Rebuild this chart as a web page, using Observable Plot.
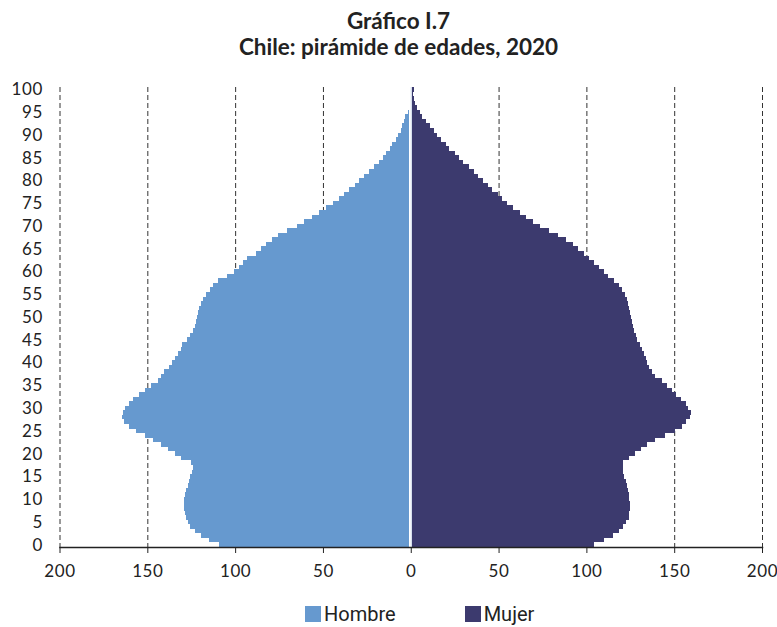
<!DOCTYPE html>
<html>
<head>
<meta charset="utf-8">
<script src="https://cdn.jsdelivr.net/npm/d3@7"></script>
<script src="https://cdn.jsdelivr.net/npm/@observablehq/plot@0.6"></script>
<style>
  body { margin: 0; background: #fff; width: 777px; }
  #title { margin-top: 8px; text-align: center; font-family: Lato, "Open Sans", sans-serif; font-weight: 700; font-size: 22.5px; line-height: 26px; color: #222; height: 54px; padding-left: 20px; }
  #chart svg { display: block; }
  #chart svg rect { shape-rendering: crispEdges; }
  #legend { margin-top: 16px; padding-left: 305px; display: flex; font-family: "Liberation Sans Narrow", Roboto, sans-serif; font-size: 20px; line-height: 22px; height: 22px; color: #222; }
  .item { display: flex; align-items: center; }
  .sw { width: 16px; height: 16px; margin-right: 3px; }
</style>
</head>
<body>
<div id="title">Gráfico I.7<br>Chile: pirámide de edades, 2020</div>
<div id="chart"></div>
<div id="legend"></div>
<script>
const ages = d3.range(0, 101);
const seriesNames = ["Hombre", "Mujer"];
const hombre = [
  109, 115, 119.5, 123, 125.5, 127, 128, 128.5, 129, 129,
  129, 128.5, 128, 127, 126.5, 125.5, 124.5, 124, 125, 131,
  134.5, 138, 142, 147, 151.5, 156.5, 160.5, 163, 164.5, 164,
  162.5, 160.5, 158, 155, 151.5, 148, 144, 142, 140.5, 137.5,
  136, 134.5, 132.5, 131, 130, 127.5, 125.5, 124, 123, 122.5,
  121.5, 121, 120.5, 119.5, 118.5, 116.5, 114.5, 112.8, 110, 104.5,
  100.5, 98, 95.5, 93, 88, 85, 82.5, 79, 75.5, 70.5,
  65, 60.5, 56, 52, 48, 44.5, 41, 38, 35, 32,
  29.5, 26.5, 24, 21, 18, 16, 14, 12, 10.5, 8.5,
  7, 5.8, 4.8, 3.8, 3, 1.3, 0.9, 0.6, 0.4, 0.2,
  0.2
];
const mujer = [
  104.5, 110, 115, 118.5, 121, 122.5, 124, 124.5, 125, 125,
  124.5, 124, 123.5, 123, 122.5, 121.5, 121, 120.8, 121, 124,
  127.5, 131, 134.5, 139, 144.5, 150.5, 154.5, 157, 159, 159.5,
  158, 156.5, 154, 151, 148.5, 146, 143, 139, 137.5, 135.5,
  134.8, 134, 133, 131.5, 130.5, 129, 128, 127, 126.3, 125.8,
  125.3, 125, 124.5, 123.5, 123, 121.8, 120.5, 118.5, 116, 112.5,
  110, 107, 104.5, 101.5, 98.5, 95.5, 92.5, 88.5, 84, 79,
  73.5, 69.5, 65.5, 62, 58, 55, 52, 49.5, 46.5, 44,
  41, 38.5, 36, 33, 30, 27.5, 25, 22, 19.8, 17.5,
  15, 13, 11, 8.5, 6.5, 5, 3.5, 2.5, 1.6, 1.2,
  2
];
const xTicks = [-200, -150, -100, -50, 0, 50, 100, 150, 200];
const gridTicks = [-200, -150, -100, -50, 50, 100, 150, 200];
const yLabels = ages.filter(a => a % 5 === 0);
const colors = ["#6699cf", "#3c3a6e"];

const maleData = ages.map((a, i) => ({age: a, v: hombre[i]}));
const femaleData = ages.map((a, i) => ({age: a, v: mujer[i]}));

const chart = Plot.plot({
  width: 777,
  height: 525,
  marginLeft: 59.5,
  marginRight: 15,
  marginTop: 25,
  marginBottom: 40,
  style: {fontFamily: "Lato, 'Open Sans', sans-serif", fontSize: "17px", color: "#222", background: "#fff", letterSpacing: "0.6px"},
  x: {domain: [-200, 200]},
  y: {domain: ages.slice().reverse(), padding: 0},
  marks: [
    Plot.ruleX(gridTicks, {stroke: "#333", strokeWidth: 1, strokeDasharray: "5,3"}),
    Plot.barX(maleData, {y: "age", x1: d => -d.v, x2: 0, fill: colors[0], insetRight: 2}),
    Plot.barX(femaleData, {y: "age", x1: 0, x2: d => d.v, fill: colors[1], insetLeft: 1.5}),
    Plot.ruleX([0], {stroke: "#c9d5e8", strokeWidth: 1}),
    Plot.frame({anchor: "bottom", stroke: "#222", strokeWidth: 1.5}),
    Plot.axisX({ticks: xTicks, tickFormat: d => Math.abs(d), tickSize: 6, tickPadding: 11, stroke: "#222"}),
    Plot.axisY({ticks: yLabels, tickSize: 0, tickPadding: 17, label: null})
  ]
});
document.getElementById("chart").appendChild(chart);

const legend = document.getElementById("legend");
seriesNames.forEach((name, i) => {
  const it = document.createElement("div");
  it.className = "item";
  it.style.marginRight = i === 0 ? "69px" : "0";
  const sw = document.createElement("div");
  sw.className = "sw";
  sw.style.background = colors[i];
  it.appendChild(sw);
  const t = document.createElement("span");
  t.textContent = name;
  it.appendChild(t);
  legend.appendChild(it);
});
</script>
</body>
</html>
